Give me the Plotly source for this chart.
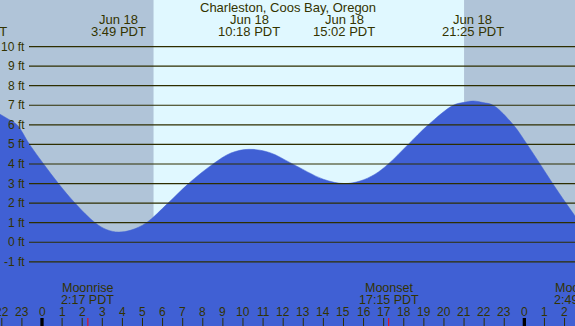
import plotly.graph_objects as go

# ---- data (hours relative to Jun 18 00:00 PDT) ----
tide_hours = [-2.10, -1.69, -1.24, -0.62, 0.08, 0.82, 1.64, 2.64, 3.23, 3.81, 4.43,
              5.20, 6.27, 7.29, 8.51, 9.40, 10.30, 11.34, 12.42, 14.00,
              15.04, 15.82, 16.57, 17.23, 18.22, 19.22, 20.46, 21.00, 21.46, 21.94,
              22.45, 23.45, 24.14, 24.78, 25.41, 26.07, 26.55]
tide_ft = [6.55, 6.30, 6.00, 5.00, 4.00, 3.00, 2.00, 1.00, 0.64, 0.52, 0.62,
           1.00, 2.00, 3.00, 4.00, 4.56, 4.75, 4.58, 4.03, 3.22,
           3.00, 3.13, 3.48, 4.00, 5.00, 6.00, 7.00, 7.15, 7.22, 7.14,
           7.00, 6.00, 5.00, 4.00, 3.00, 2.00, 1.30]

extreme_hours = [-3.30, 3.82, 10.30, 15.03, 21.42]
extreme_dates = ["Jun 17", "Jun 18", "Jun 18", "Jun 18", "Jun 18"]
extreme_times = ["20:42 PDT", "3:49 PDT", "10:18 PDT", "15:02 PDT", "21:25 PDT"]

moon_hours = [2.283, 17.25, 26.817]
moon_events = ["Moonrise", "Moonset", "Moonrise"]
moon_times = ["2:17 PDT", "17:15 PDT", "2:49 PDT"]

sunrise_h = 5.55
sunset_h = 21.0

grid_levels = [-1, 0, 1, 2, 3, 4, 5, 6, 7, 8, 9, 10]
grid_labels = ["-1 ft", "0 ft", "1 ft", "2 ft", "3 ft", "4 ft", "5 ft", "6 ft",
               "7 ft", "8 ft", "9 ft", "10 ft"]

hour_ticks = list(range(-2, 27))
hour_labels = [str(h % 24) for h in hour_ticks]

title = "Charleston, Coos Bay, Oregon"

# ---- style ----
W, H = 575, 326
XMIN, XMAX = -2.09, 26.52
YMIN, YMAX = -4.28, 12.38
NIGHT = "#b0c4d8"
DAY = "#e0f8ff"
BLUE = "#4060d4"
GRID = "#2e2e00"
TXT = "#333300"
FONT = "Liberation Sans, Arial, sans-serif"


def xp(h):
    return (h - XMIN) / (XMAX - XMIN)


def yp(pix):
    return 1 - pix / H


def label(text, x, y, size, xref="paper", yref="paper", xanchor="center"):
    return dict(text=text, x=x, y=y, xref=xref, yref=yref, xanchor=xanchor,
                yanchor="middle", showarrow=False,
                font=dict(size=size, color=TXT, family=FONT))


fig = go.Figure()
fig.add_trace(go.Scatter(x=[tide_hours[0], tide_hours[-1]], y=[YMIN - 1, YMIN - 1],
                         mode="lines", line=dict(width=0, color=BLUE),
                         hoverinfo="skip", showlegend=False))
fig.add_trace(go.Scatter(x=tide_hours, y=tide_ft, mode="lines",
                         line=dict(width=0.5, color=BLUE, shape="spline", smoothing=1.0),
                         fill="tonexty", fillcolor=BLUE, showlegend=False))

shapes = []
shapes.append(dict(type="rect", xref="x", yref="paper", x0=sunrise_h, x1=sunset_h,
                   y0=0, y1=1, fillcolor=DAY, line=dict(width=0), layer="below"))
for lv in grid_levels:
    shapes.append(dict(type="line", xref="paper", yref="y", x0=29 / W, x1=1,
                       y0=lv, y1=lv, line=dict(color=GRID, width=1.2), layer="above"))
for h in hour_ticks:
    mid = (h % 24 == 0)
    shapes.append(dict(type="line", xref="x", yref="paper", x0=h, x1=h,
                       y0=0, y1=8 / H,
                       line=dict(color="#000000" if mid else GRID, width=3.3 if mid else 1),
                       layer="above"))
for h in moon_hours:
    if XMIN <= h <= XMAX:
        shapes.append(dict(type="line", xref="x", yref="paper", x0=h, x1=h,
                           y0=0, y1=8 / H, line=dict(color="#ff0000", width=1),
                           layer="above"))

ann = [label(title, 0.5, yp(8), 13)]
for h, d, t in zip(extreme_hours, extreme_dates, extreme_times):
    ann.append(label(d, xp(h), yp(19.5), 13))
    ann.append(label(t, xp(h), yp(31.5), 13))
for lv, lab in zip(grid_levels, grid_labels):
    ann.append(label(lab, 27 / W, lv, 12, yref="y", xanchor="right"))
for h, e, t in zip(moon_hours, moon_events, moon_times):
    ann.append(label(e, xp(h), yp(288), 12.5))
    ann.append(label(t, xp(h), yp(300), 12.5))
for h, lab in zip(hour_ticks, hour_labels):
    ann.append(label(lab, xp(h), yp(312), 12))

fig.update_layout(
    width=W, height=H, autosize=False,
    margin=dict(l=0, r=0, t=0, b=0, pad=0),
    paper_bgcolor=NIGHT, plot_bgcolor=NIGHT,
    xaxis=dict(range=[XMIN, XMAX], visible=False, fixedrange=True),
    yaxis=dict(range=[YMIN, YMAX], visible=False, fixedrange=True),
    shapes=shapes, annotations=ann, showlegend=False,
)

fig.write_html("out.html", config={"displayModeBar": False},
               post_script="document.body.style.margin='0';document.body.style.overflow='hidden';")
